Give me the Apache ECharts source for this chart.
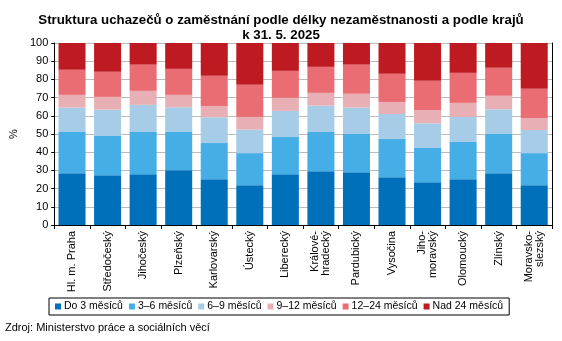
<!DOCTYPE html>
<html>
<head>
<meta charset="utf-8">
<script src="https://cdn.jsdelivr.net/npm/echarts@6/dist/echarts.min.js"></script>
<style>
html,body{margin:0;padding:0;background:#fff;}
#chart{width:562px;height:341px;}
</style>
</head>
<body>
<div id="chart"></div>
<script>
const categories = ['Hl. m. Praha','Středočeský','Jihočeský','Plzeňský','Karlovarský','Ústecký','Liberecký','Králové-\nhradecký','Pardubický','Vysočina','Jiho-\nmoravský','Olomoucký','Zlínský','Moravsko-\nslezský'];
const seriesNames = ['Do 3 měsíců','3–6 měsíců','6–9 měsíců','9–12 měsíců','12–24 měsíců','Nad 24 měsíců'];
const do3 =   [28.5, 27.4, 27.9, 30.1, 25.2, 21.9, 27.9, 29.6, 29.0, 26.3, 23.5, 25.2, 28.5, 21.9];
const m3_6 =  [22.6, 21.5, 23.2, 21.0, 19.8, 17.6, 20.4, 21.5, 21.0, 20.9, 18.8, 20.4, 21.5, 17.6];
const m6_9 =  [13.4, 14.5, 14.9, 13.6, 14.2, 12.9, 14.4, 14.5, 14.5, 13.8, 13.6, 13.8, 13.6, 12.7];
const m9_12 = [7.0, 7.0, 7.7, 6.8, 6.2, 7.0, 7.2, 7.0, 7.6, 6.6, 7.3, 7.7, 7.4, 6.6];
const m12_24 =[13.8, 13.8, 14.4, 14.3, 16.6, 17.6, 14.8, 14.3, 16.0, 15.5, 16.0, 16.5, 15.4, 16.0];
const nad24 = [14.7, 15.8, 11.9, 14.2, 18.0, 23.0, 15.3, 13.1, 11.9, 16.9, 20.8, 16.4, 13.6, 25.2];
const yTicks = [0,10,20,30,40,50,60,70,80,90,100];
const colors = ['#0070BA','#46AEE6','#A6CCE8','#E8B0B4','#EA6D74','#BE1A21'];
const allData = [do3, m3_6, m6_9, m9_12, m12_24, nad24];
const FONT = '"Liberation Sans", Arial, sans-serif';

const chart = echarts.init(document.getElementById('chart'), null, {renderer:'canvas'});
chart.setOption({
  animation:false,
  color: colors,
  textStyle:{fontFamily:FONT},
  title:{
    text:'Struktura uchazečů o zaměstnání podle délky nezaměstnanosti a podle krajů\nk 31. 5. 2025',
    left:'center', top:8,
    textStyle:{fontFamily:FONT,fontSize:13.3,fontWeight:'bold',color:'#000',lineHeight:15}
  },
  grid:{left:43,right:10,top:43,bottom:116,containLabel:false},
  legend:{
    data:seriesNames,
    left:49, top:298, right:0,
    padding:[3,6,3,6],
    borderColor:'#000',borderWidth:1,
    itemWidth:6,itemHeight:6,itemGap:6,
    icon:'rect',
    textStyle:{fontFamily:FONT,fontSize:10.5,color:'#000',padding:[0,0,0,-2]}
  },
  xAxis:{
    type:'category',data:categories,
    axisLine:{lineStyle:{color:'#000',width:1}},
    axisTick:{show:true,length:4,lineStyle:{color:'#000'},alignWithLabel:false},
    axisLabel:{rotate:90,fontSize:11,color:'#000',fontFamily:FONT,lineHeight:11,margin:6,interval:0}
  },
  yAxis:[{
    type:'value',min:yTicks[0],max:yTicks[yTicks.length-1],interval:10,
    name:'%',nameLocation:'middle',nameGap:31,nameRotate:90,
    nameTextStyle:{fontFamily:FONT,fontSize:11,color:'#000'},
    axisLine:{show:true,lineStyle:{color:'#000'}},
    axisTick:{show:true,length:3,lineStyle:{color:'#000'}},
    axisLabel:{fontSize:11,color:'#000',fontFamily:FONT,margin:6},
    splitLine:{show:true,lineStyle:{color:'#BBBBBB',width:1}}
  },{
    type:'value',min:0,max:100,interval:10,position:'right',
    axisLine:{show:true,lineStyle:{color:'#000'}},
    axisTick:{show:false},axisLabel:{show:false},splitLine:{show:false}
  }],
  series: seriesNames.map((n,i)=>({
    name:n,type:'bar',stack:'total',data:allData[i],
    barWidth:'76%',
    itemStyle:{color:colors[i]}
  })),
  graphic:[{
    type:'text',left:5,top:322,
    style:{text:'Zdroj: Ministerstvo práce a sociálních věcí',fontFamily:FONT,fontSize:11,fill:'#000'}
  }]
});
</script>
</body>
</html>
